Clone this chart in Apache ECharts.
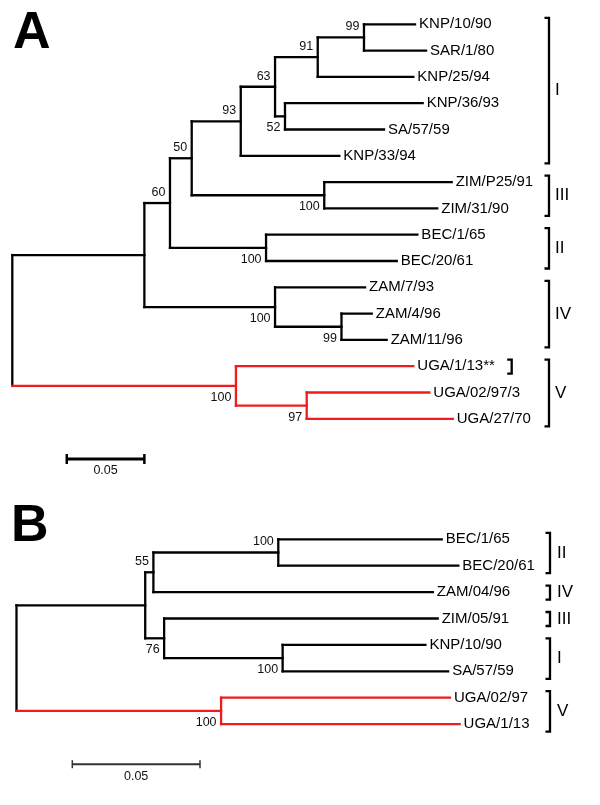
<!DOCTYPE html>
<html><head><meta charset="utf-8">
<script src="https://cdn.jsdelivr.net/npm/echarts@6/dist/echarts.min.js"></script>
<style>html,body{margin:0;padding:0;background:#fff}#c{width:600px;height:805px}</style>
</head><body><div id="c"></div>
<script>
// ---------- Tree A data ----------
const leavesA = ['KNP/10/90','SAR/1/80','KNP/25/94','KNP/36/93','SA/57/59','KNP/33/94','ZIM/P25/91','ZIM/31/90','BEC/1/65','BEC/20/61','ZAM/7/93','ZAM/4/96','ZAM/11/96','UGA/1/13**','UGA/02/97/3','UGA/27/70'];
const leafDistA = [0.2595,0.2666,0.2584,0.2644,0.2395,0.2107,0.2831,0.2738,0.2610,0.2477,0.2273,0.2316,0.2412,0.2584,0.2687,0.2838];
const nodeIdsA = ['root','n1','n60','n50','n93','n63','n91','n99','n52','nZIM','nBEC','nZAM','nZAM99','nUGA','n97'];
const nodeDistA = [0,0.0851,0.1016,0.1156,0.1472,0.1693,0.1968,0.2266,0.1757,0.2010,0.1635,0.1693,0.2121,0.1441,0.1897];
const nodeChildrenA = [['n1','nUGA'],['n60','nZAM'],['n50','nBEC'],['n93','nZIM'],['n63',5],['n91','n52'],['n99',2],[0,1],[3,4],[6,7],[8,9],[10,'nZAM99'],[11,12],[13,'n97'],[14,15]];
const bootstrapA = [null,null,60,50,93,63,91,99,52,100,100,100,99,100,97];
const cladesA = [['I',0,5],['III',6,7],['II',8,9],['IV',10,12],['V',13,15],['',13,13]];
const redCladeA = 'nUGA';

// ---------- Tree B data ----------
const leavesB = ['BEC/1/65','BEC/20/61','ZAM/04/96','ZIM/05/91','KNP/10/90','SA/57/59','UGA/02/97','UGA/1/13'];
const leafDistB = [0.1665,0.1730,0.1630,0.1649,0.1601,0.1690,0.1697,0.1735];
const nodeIdsB = ['root','n1','n55','nBEC','n76','nKS','nUGA'];
const nodeDistB = [0,0.0504,0.0536,0.1025,0.0578,0.1042,0.0801];
const nodeChildrenB = [['n1','nUGA'],['n55','n76'],['nBEC',2],[0,1],[3,'nKS'],[4,5],[6,7]];
const bootstrapB = [null,null,55,100,76,100,100];
const cladesB = [['II',0,1],['IV',2,2],['III',3,3],['I',4,5],['V',6,7]];
const redCladeB = 'nUGA';

const scaleBarValue = 0.05;
const scaleBarLabel = '0.05';

// ---------- styling / layout ----------
const FONT = '"Liberation Sans", Arial, Helvetica, sans-serif';
const RED = '#ee1c1c', BLACK = '#000';
const LW = 2.3;

const LA = {grid:{left:12.3, top:24.3, width:465.6, height:394.5}, xMax:0.3, yMax:15,
  bracketX:[549,549,549,549,549,511.7], labelGap:6, scaleX:0.0351, scaleY:16.53, scaleTick:5, scaleLW:3, scaleColor:'#000'};
const LB = {grid:{left:16.5, top:539.3, width:510.8, height:184.8}, xMax:0.2, yMax:7,
  bracketX:[550,550,550,550,550], labelGap:7, scaleX:0.02185, scaleY:8.52, scaleTick:4, scaleLW:2, scaleColor:'#333'};

function buildTree(T){
  const idx = {}; T.nodeIds.forEach((id,i)=>idx[id]=i);
  const ny = [];
  const yOf = c => typeof c === 'number' ? c : nodeY(idx[c]);
  function nodeY(i){ if(ny[i]===undefined){ const ch=T.nodeChildren[i]; ny[i]=(yOf(ch[0])+yOf(ch[ch.length-1]))/2; } return ny[i]; }
  const xOf = c => typeof c === 'number' ? T.leafDist[c] : T.nodeDist[idx[c]];
  const key = c => typeof c === 'number' ? 'L'+c : c;
  const red = new Set();
  function mark(c){ red.add(key(c)); if(typeof c !== 'number') T.nodeChildren[idx[c]].forEach(mark); }
  if (T.redClade) mark(T.redClade);
  const segs = [];
  T.nodeIds.forEach((id,i)=>{
    const ch = T.nodeChildren[i], x = T.nodeDist[i];
    segs.push([x, yOf(ch[0]), x, yOf(ch[ch.length-1]), red.has(id)]);
    ch.forEach(c => segs.push([x, yOf(c), xOf(c), yOf(c), red.has(key(c))]));
  });
  segs.sort((a,b)=>(a[4]?1:0)-(b[4]?1:0));
  const boots = [];
  T.nodeIds.forEach((id,i)=>{
    const b = T.bootstrap[i]; if (b == null) return;
    let upper = true;
    T.nodeChildren.forEach(ch=>{ const k = ch.indexOf(id); if (k>=0) upper = (k===0); });
    boots.push({x:T.nodeDist[i], y:nodeY(i), text:String(b), upper});
  });
  return {segs, boots};
}

function makeRender(T, B, L){
  return function(params, api){
    const out = [];
    B.segs.forEach(s=>{
      const p1 = api.coord([s[0], s[1]]), p2 = api.coord([s[2], s[3]]);
      out.push({type:'line', shape:{x1:p1[0],y1:p1[1],x2:p2[0],y2:p2[1]},
        style:{stroke:s[4]?RED:BLACK, lineWidth:LW, lineCap:'square'}});
    });
    T.leaves.forEach((name,i)=>{
      const p = api.coord([T.leafDist[i], i]);
      out.push({type:'text', x:p[0]+4, y:p[1], style:{text:name, font:'15px '+FONT, fill:'#000', align:'left', verticalAlign:'middle'}});
    });
    B.boots.forEach(b=>{
      const p = api.coord([b.x, b.y]);
      out.push({type:'text', x:p[0]-4.5, y:p[1] + (b.upper ? -10.5 : 11.5),
        style:{text:b.text, font:'12.5px '+FONT, fill:'#111', align:'right', verticalAlign:'middle'}});
    });
    T.clades.forEach((c,k)=>{
      const bx = L.bracketX[k];
      const top = api.coord([0, c[1]])[1] - 6.5, bot = api.coord([0, c[2]])[1] + 7.5;
      out.push({type:'polyline', shape:{points:[[bx-4.5,top],[bx,top],[bx,bot],[bx-4.5,bot]]},
        style:{stroke:'#000', lineWidth:LW, fill:null, lineJoin:'miter'}});
      if (c[0]) out.push({type:'text', x:bx+L.labelGap, y:(top+bot)/2,
        style:{text:c[0], font:'17px '+FONT, fill:'#000', align:'left', verticalAlign:'middle'}});
    });
    const s1 = api.coord([L.scaleX, L.scaleY]), s2 = api.coord([L.scaleX + scaleBarValue, L.scaleY]);
    out.push({type:'line', shape:{x1:s1[0],y1:s1[1],x2:s2[0],y2:s2[1]}, style:{stroke:L.scaleColor, lineWidth:L.scaleLW}});
    [s1,s2].forEach(p=>out.push({type:'line', shape:{x1:p[0],y1:p[1]-L.scaleTick,x2:p[0],y2:p[1]+L.scaleTick}, style:{stroke:L.scaleColor, lineWidth:L.scaleLW-0.5}}));
    out.push({type:'text', x:(s1[0]+s2[0])/2, y:s1[1]+12, style:{text:scaleBarLabel, font:'12.5px '+FONT, fill:'#111', align:'center', verticalAlign:'middle'}});
    return {type:'group', children:out};
  };
}

const TA = {leaves:leavesA, leafDist:leafDistA, nodeIds:nodeIdsA, nodeDist:nodeDistA, nodeChildren:nodeChildrenA, bootstrap:bootstrapA, clades:cladesA, redClade:redCladeA};
const TB = {leaves:leavesB, leafDist:leafDistB, nodeIds:nodeIdsB, nodeDist:nodeDistB, nodeChildren:nodeChildrenB, bootstrap:bootstrapB, clades:cladesB, redClade:redCladeB};
const BA = buildTree(TA), BB = buildTree(TB);

const chart = echarts.init(document.getElementById('c'), null, {renderer:'canvas', width:600, height:805});
const axisOff = {show:false, splitLine:{show:false}};
chart.setOption({
  animation:false,
  backgroundColor:'#fff',
  grid:[Object.assign({containLabel:false, outerBoundsMode:'none'}, LA.grid), Object.assign({containLabel:false, outerBoundsMode:'none'}, LB.grid)],
  xAxis:[Object.assign({type:'value', gridIndex:0, min:0, max:LA.xMax}, axisOff), Object.assign({type:'value', gridIndex:1, min:0, max:LB.xMax}, axisOff)],
  yAxis:[Object.assign({type:'value', gridIndex:0, min:0, max:LA.yMax, inverse:true}, axisOff), Object.assign({type:'value', gridIndex:1, min:0, max:LB.yMax, inverse:true}, axisOff)],
  series:[
    {type:'custom', coordinateSystem:'cartesian2d', xAxisIndex:0, yAxisIndex:0, silent:true, clip:false, data:[[0,0]], renderItem:makeRender(TA, BA, LA)},
    {type:'custom', coordinateSystem:'cartesian2d', xAxisIndex:1, yAxisIndex:1, silent:true, clip:false, data:[[0,0]], renderItem:makeRender(TB, BB, LB)}
  ],
  graphic:[
    {type:'text', left:13, top:8, style:{text:'A', font:'bold 52px '+FONT, fill:'#000'}},
    {type:'text', left:11, top:501, style:{text:'B', font:'bold 52px '+FONT, fill:'#000'}}
  ]
});
</script></body></html>
